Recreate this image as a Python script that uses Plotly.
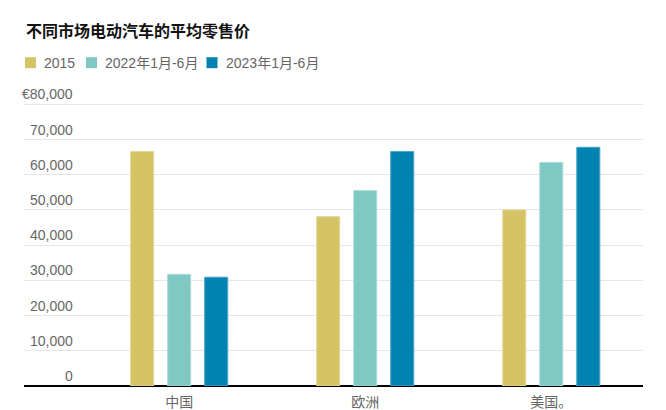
import plotly.graph_objects as go

categories = ["中国", "欧洲", "美国。"]
series_names = ["2015", "2022年1月-6月", "2023年1月-6月"]
values_2015 = [66600, 48100, 50000]
values_2022 = [31700, 55500, 63500]
values_2023 = [30900, 66600, 67800]
colors = ["#D4C466", "#7FC8C4", "#0083B0"]
edge_colors = ["#E2D89A", "#AEDDD9", "#4FA5C8"]
y_ticks = [0, 10000, 20000, 30000, 40000, 50000, 60000, 70000, 80000]
y_tick_labels = ["0", "10,000", "20,000", "30,000", "40,000", "50,000", "60,000", "70,000", "€80,000"]

series_values = [values_2015, values_2022, values_2023]
xpos = list(range(len(categories)))

W, H = 666, 410
ML, MR, MT, MB = 24, 23, 100, 24
Y_TOP = 81220

fig = go.Figure()
for name, vals, c, ec in zip(series_names, series_values, colors, edge_colors):
    fig.add_trace(go.Bar(
        x=xpos, y=vals, name=name,
        marker=dict(color=c, line=dict(color=ec, width=1)),
        showlegend=False,
        hovertemplate="%{y:,}<extra>" + name + "</extra>",
    ))

font_main = "Liberation Sans, Arial, Noto Sans CJK SC, sans-serif"

pw = W - ML - MR
ph = H - MT - MB

annotations = []
# y tick labels above gridlines
for v, lab in zip(y_ticks, y_tick_labels):
    annotations.append(dict(
        x=(75 - ML) / pw, xref="paper", xanchor="right",
        y=v, yref="y", yanchor="middle", yshift=10,
        text=lab, showarrow=False,
        font=dict(family=font_main, size=14, color="#666666"),
    ))

# title
annotations.append(dict(
    x=(24 - ML) / pw, xref="paper", xanchor="left",
    y=1 + (MT - 30) / ph, yref="paper", yanchor="middle",
    text="<b>不同市场电动汽车的平均零售价</b>", showarrow=False,
    font=dict(family="Noto Sans CJK SC, sans-serif", size=16, color="#121212"),
))

# legend (custom)
legend_sq_x = [25, 86, 206.5]
legend_y = 62.7
shapes = []
for name, c, sx in zip(series_names, colors, legend_sq_x):
    shapes.append(dict(
        type="rect", xref="paper", yref="paper",
        x0=(sx - ML) / pw, x1=(sx + 11 - ML) / pw,
        y0=1 + (MT - legend_y - 5.5) / ph, y1=1 + (MT - legend_y + 5.5) / ph,
        fillcolor=c, line=dict(width=0),
    ))
    annotations.append(dict(
        x=(sx + 17 - ML) / pw, xref="paper", xanchor="left",
        y=1 + (MT - legend_y) / ph, yref="paper", yanchor="middle",
        text=name, showarrow=False,
        font=dict(family=font_main, size=14, color="#666666"),
    ))

fig.update_layout(
    width=W, height=H,
    margin=dict(l=ML, r=MR, t=MT, b=MB, pad=0, autoexpand=False),
    paper_bgcolor="white", plot_bgcolor="white",
    barmode="group", bargap=0.403, bargroupgap=0.377,
    annotations=annotations, shapes=shapes,
    showlegend=False,
)
fig.update_xaxes(
    range=[-0.834, 2.493], tickvals=xpos, ticktext=categories,
    showgrid=False, zeroline=False, showline=False, ticks="",
    tickfont=dict(family=font_main, size=14, color="#666666"),
    ticklabelstandoff=6,
    fixedrange=True, automargin=False,
)
fig.update_yaxes(
    range=[0, Y_TOP], tickvals=y_ticks, showticklabels=False,
    showgrid=True, gridcolor="#E6E6E6", gridwidth=1,
    zeroline=True, zerolinecolor="#000000", zerolinewidth=1.5,
    showline=False, ticks="", fixedrange=True, automargin=False,
)

fig.write_html(
    "out.html",
    config={"displayModeBar": False},
    post_script="document.body.style.margin='0';document.body.style.overflow='hidden';",
)
